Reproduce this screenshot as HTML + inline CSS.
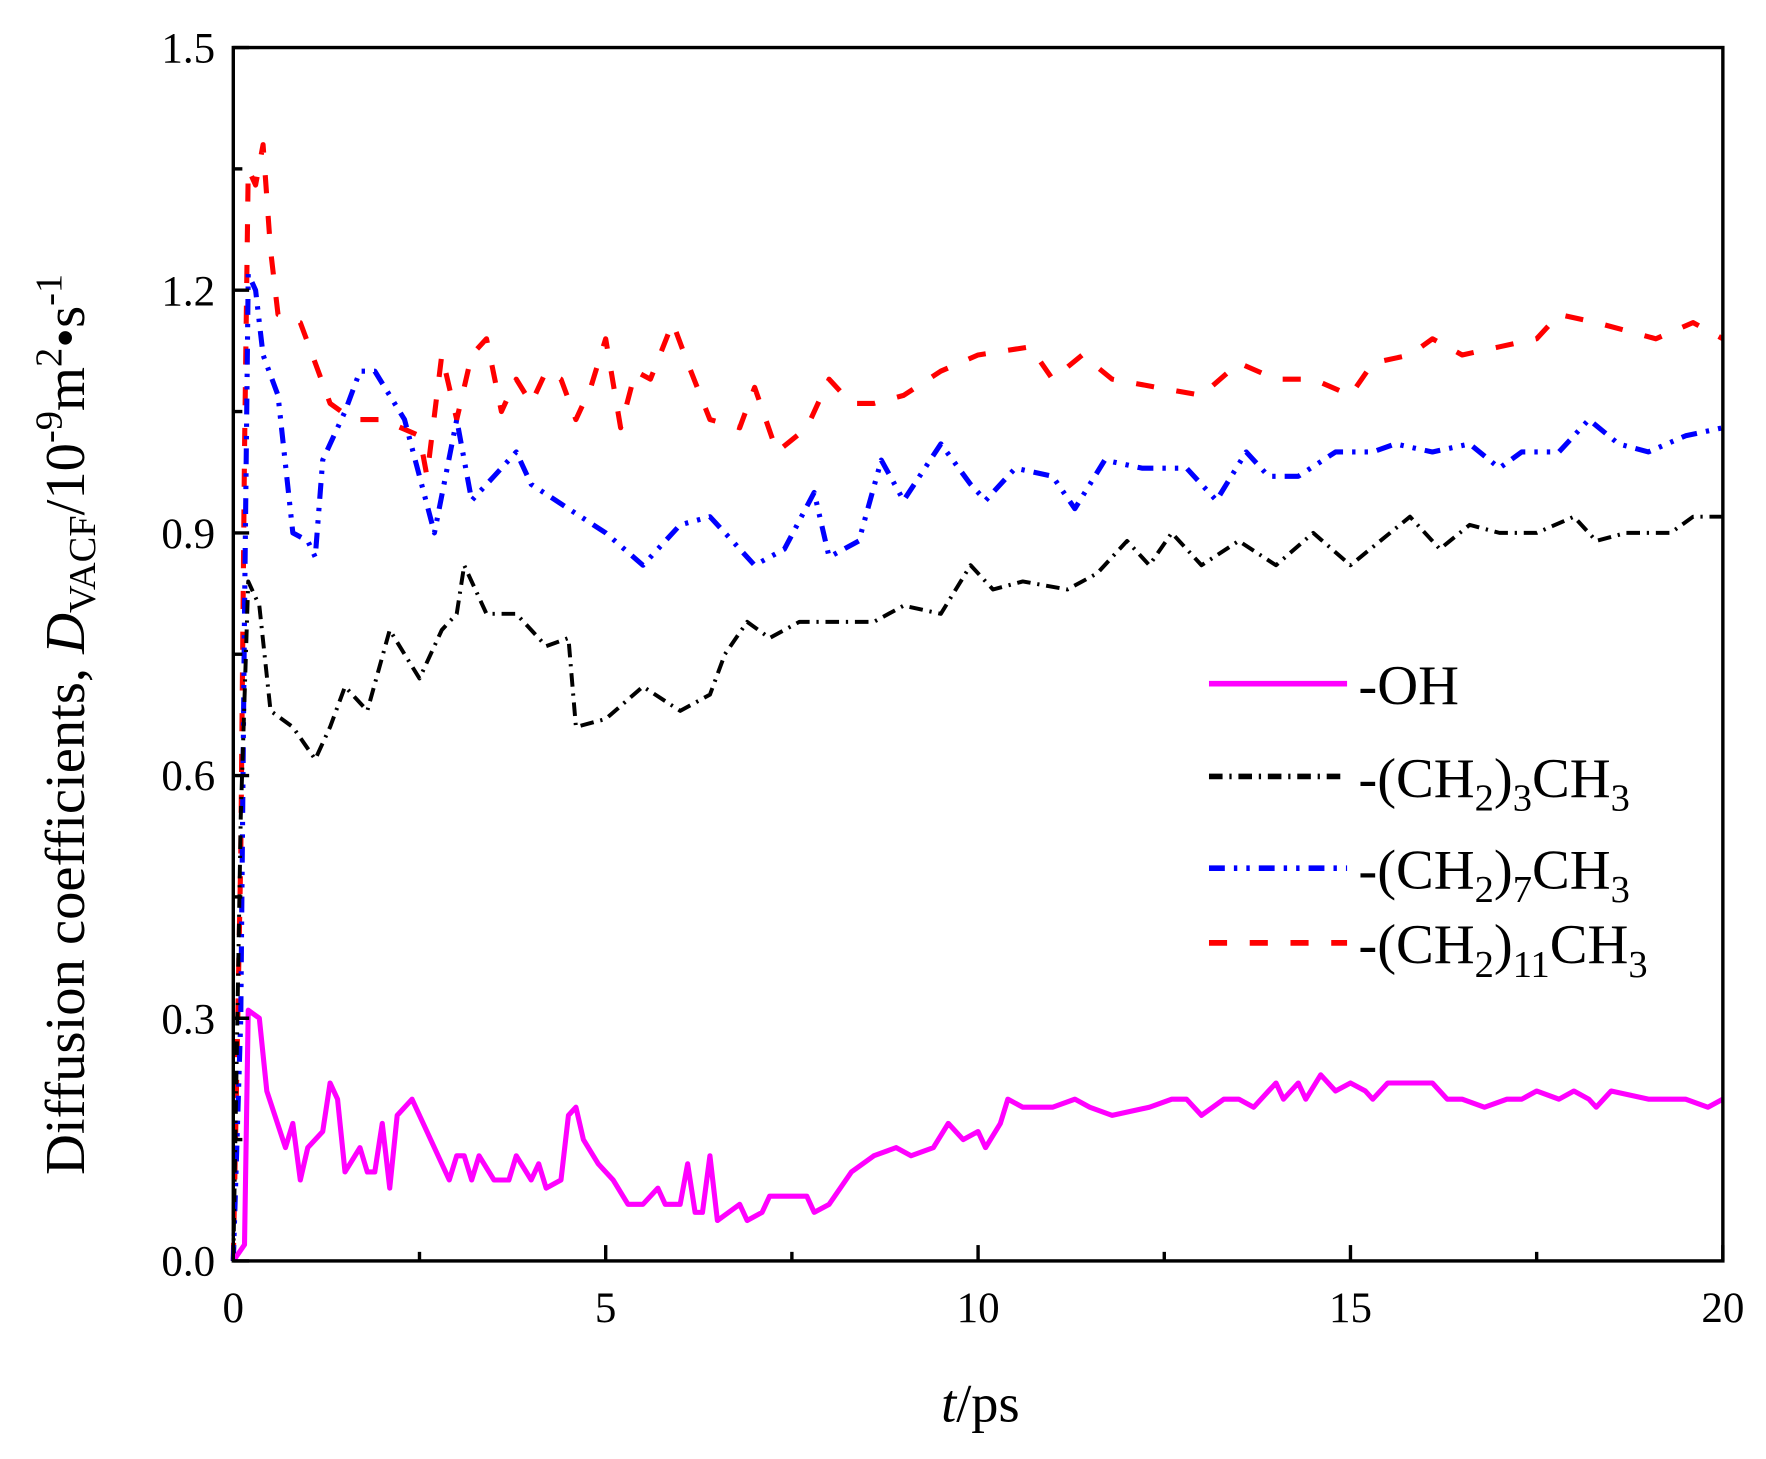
<!DOCTYPE html>
<html><head><meta charset="utf-8"><style>html,body{margin:0;padding:0;background:#fff}svg{display:block}</style></head>
<body>
<svg id="s" width="1766" height="1459" viewBox="0 0 1560 1289" xmlns="http://www.w3.org/2000/svg" font-family="Liberation Serif, serif">
<rect width="1560" height="1289" fill="#fff"/>
<g id="series"></g>
<rect x="206" y="42" width="1316" height="1072" fill="none" stroke="#000" stroke-width="3"/>
<g id="ticks" stroke="#000" stroke-width="3"></g>
<g font-size="38" fill="#000">
<text x="190" y="1127" text-anchor="end">0.0</text>
<text x="190" y="913" text-anchor="end">0.3</text>
<text x="190" y="698" text-anchor="end">0.6</text>
<text x="190" y="484" text-anchor="end">0.9</text>
<text x="190" y="270" text-anchor="end">1.2</text>
<text x="190" y="55" text-anchor="end">1.5</text>
<text x="206" y="1168" text-anchor="middle">0</text>
<text x="535" y="1168" text-anchor="middle">5</text>
<text x="864" y="1168" text-anchor="middle">10</text>
<text x="1193" y="1168" text-anchor="middle">15</text>
<text x="1522" y="1168" text-anchor="middle">20</text>
</g>
<text x="866" y="1256" font-size="48" text-anchor="middle"><tspan font-style="italic">t</tspan>/ps</text>
<text transform="translate(74,640) rotate(-90)" font-size="50" text-anchor="middle">Diffusion coefficients, <tspan font-style="italic">D</tspan><tspan font-size="34" dy="10">VACF</tspan><tspan dy="-10">/10</tspan><tspan font-size="34" dy="-20">-9</tspan><tspan dy="20">m</tspan><tspan font-size="34" dy="-20">2</tspan><tspan dy="20">•s</tspan><tspan font-size="34" dy="-20">-1</tspan></text>
<g stroke-width="5">
<line x1="1068" y1="604" x2="1190" y2="604" stroke="#ff00ff"/>
<line x1="1068" y1="686" x2="1190" y2="686" stroke="#000" stroke-dasharray="12,6,2,6"/>
<line x1="1068" y1="767" x2="1190" y2="767" stroke="#0000ff" stroke-dasharray="14,8,3,8,3,8"/>
<line x1="1068" y1="833" x2="1190" y2="833" stroke="#ff0000" stroke-dasharray="16,20"/>
</g>
<g font-size="50" fill="#000">
<text x="1200" y="622">-OH</text>
<text x="1200" y="704">-(CH<tspan font-size="34" dy="12">2</tspan><tspan dy="-12">)</tspan><tspan font-size="34" dy="12">3</tspan><tspan dy="-12">CH</tspan><tspan font-size="34" dy="12">3</tspan></text>
<text x="1200" y="785">-(CH<tspan font-size="34" dy="12">2</tspan><tspan dy="-12">)</tspan><tspan font-size="34" dy="12">7</tspan><tspan dy="-12">CH</tspan><tspan font-size="34" dy="12">3</tspan></text>
<text x="1200" y="851">-(CH<tspan font-size="34" dy="12">2</tspan><tspan dy="-12">)</tspan><tspan font-size="34" dy="12">11</tspan><tspan dy="-12">CH</tspan><tspan font-size="34" dy="12">3</tspan></text>
</g>
</svg>
<script>
var X=function(t){return 206+65.8*t},Y=function(v){return 1114-v*714.67};
var NS="http://www.w3.org/2000/svg";
function path(d,col,dash,w){var p=document.createElementNS(NS,"path");
var s=d.map(function(q,i){return (i?"L":"M")+X(q[0]).toFixed(1)+","+Y(q[1]).toFixed(1)}).join("");
p.setAttribute("d",s);p.setAttribute("fill","none");p.setAttribute("stroke",col);p.setAttribute("stroke-width",w);
p.setAttribute("stroke-linejoin","round");if(dash)p.setAttribute("stroke-dasharray",dash);
document.getElementById("series").appendChild(p);}
var red=[[0,0],[0.1,0.5],[0.15,1.0],[0.2,1.35],[0.3,1.33],[0.4,1.38],[0.5,1.25],[0.6,1.17],[0.9,1.16],[1.1,1.11],[1.3,1.06],[1.6,1.04],[2.0,1.04],[2.5,1.02],[2.6,0.97],[2.8,1.12],[3.0,1.04],[3.2,1.12],[3.4,1.14],[3.6,1.05],[3.8,1.09],[4.0,1.06],[4.2,1.10],[4.4,1.09],[4.6,1.04],[4.8,1.08],[5.0,1.14],[5.2,1.03],[5.4,1.10],[5.6,1.09],[5.9,1.16],[6.1,1.11],[6.4,1.04],[6.8,1.03],[7.0,1.08],[7.3,1.00],[7.7,1.03],[8.0,1.09],[8.3,1.06],[8.6,1.06],[9.0,1.07],[9.5,1.10],[10,1.12],[10.7,1.13],[11,1.09],[11.4,1.12],[11.8,1.09],[12.4,1.08],[13,1.07],[13.5,1.11],[14,1.09],[14.5,1.09],[15,1.07],[15.3,1.11],[15.8,1.12],[16.1,1.14],[16.5,1.12],[17,1.13],[17.5,1.14],[17.8,1.17],[18.3,1.16],[18.7,1.15],[19.1,1.14],[19.6,1.16],[20,1.14]];
var blue=[[0,0],[0.1,0.3],[0.15,0.8],[0.2,1.22],[0.3,1.20],[0.4,1.12],[0.6,1.07],[0.8,0.9],[1,0.89],[1.1,0.87],[1.2,0.99],[1.5,1.05],[1.7,1.10],[1.9,1.10],[2.3,1.04],[2.5,0.97],[2.7,0.90],[3.0,1.04],[3.2,0.94],[3.5,0.97],[3.8,1.00],[4,0.96],[4.5,0.93],[5,0.90],[5.5,0.86],[6,0.91],[6.4,0.92],[6.7,0.89],[7,0.86],[7.4,0.88],[7.8,0.95],[8,0.87],[8.4,0.89],[8.7,0.99],[9,0.94],[9.5,1.01],[9.9,0.96],[10.1,0.94],[10.5,0.98],[11,0.97],[11.3,0.93],[11.7,0.99],[12.2,0.98],[12.8,0.98],[13.2,0.94],[13.6,1.00],[13.9,0.97],[14.3,0.97],[14.8,1.00],[15.3,1.00],[15.6,1.01],[16.1,1.00],[16.6,1.01],[17.0,0.98],[17.3,1.00],[17.8,1.00],[18.2,1.04],[18.6,1.01],[19.0,1.00],[19.5,1.02],[20,1.03]];
var blk=[[0,0],[0.1,0.55],[0.2,0.84],[0.35,0.81],[0.5,0.68],[0.8,0.66],[1.1,0.62],[1.3,0.66],[1.5,0.71],[1.8,0.68],[2.1,0.78],[2.3,0.75],[2.5,0.72],[2.8,0.78],[3.0,0.80],[3.1,0.86],[3.4,0.80],[3.8,0.80],[4.2,0.76],[4.5,0.77],[4.6,0.66],[5,0.67],[5.5,0.71],[6,0.68],[6.4,0.70],[6.6,0.75],[6.9,0.79],[7.2,0.77],[7.6,0.79],[8,0.79],[8.6,0.79],[9,0.81],[9.5,0.80],[9.9,0.86],[10.2,0.83],[10.6,0.84],[11.2,0.83],[11.6,0.85],[12,0.89],[12.3,0.86],[12.6,0.90],[13,0.86],[13.5,0.89],[14,0.86],[14.5,0.90],[15,0.86],[15.4,0.89],[15.8,0.92],[16.2,0.88],[16.6,0.91],[17,0.90],[17.5,0.90],[18,0.92],[18.3,0.89],[18.7,0.90],[19.3,0.90],[19.6,0.92],[20,0.92]];
var mag=[[0,0],[0.15,0.02],[0.2,0.31],[0.35,0.30],[0.45,0.21],[0.7,0.14],[0.8,0.17],[0.9,0.10],[1,0.14],[1.2,0.16],[1.3,0.22],[1.4,0.20],[1.5,0.11],[1.7,0.14],[1.8,0.11],[1.9,0.11],[2.0,0.17],[2.1,0.09],[2.2,0.18],[2.4,0.20],[2.6,0.16],[2.9,0.10],[3.0,0.13],[3.1,0.13],[3.2,0.10],[3.3,0.13],[3.5,0.10],[3.7,0.10],[3.8,0.13],[4,0.10],[4.1,0.12],[4.2,0.09],[4.4,0.10],[4.5,0.18],[4.6,0.19],[4.7,0.15],[4.9,0.12],[5.1,0.10],[5.3,0.07],[5.5,0.07],[5.7,0.09],[5.8,0.07],[6,0.07],[6.1,0.12],[6.2,0.06],[6.3,0.06],[6.4,0.13],[6.5,0.05],[6.8,0.07],[6.9,0.05],[7.1,0.06],[7.2,0.08],[7.7,0.08],[7.8,0.06],[8,0.07],[8.3,0.11],[8.6,0.13],[8.9,0.14],[9.1,0.13],[9.4,0.14],[9.6,0.17],[9.8,0.15],[10,0.16],[10.1,0.14],[10.3,0.17],[10.4,0.20],[10.6,0.19],[11,0.19],[11.3,0.20],[11.5,0.19],[11.8,0.18],[12.3,0.19],[12.6,0.20],[12.8,0.20],[13.0,0.18],[13.3,0.20],[13.5,0.20],[13.7,0.19],[13.9,0.21],[14,0.22],[14.1,0.20],[14.3,0.22],[14.4,0.20],[14.6,0.23],[14.8,0.21],[15,0.22],[15.2,0.21],[15.3,0.20],[15.5,0.22],[16.1,0.22],[16.3,0.20],[16.5,0.20],[16.8,0.19],[17.1,0.20],[17.3,0.20],[17.5,0.21],[17.8,0.20],[18.0,0.21],[18.2,0.20],[18.3,0.19],[18.5,0.21],[19,0.20],[19.5,0.20],[19.8,0.19],[20,0.20]];
path(red,"#ff0000","16,20",4.5);
path(blue,"#0000ff","14,8,3,8,3,8",4.5);
path(blk,"#000","12,6,2,6",3.5);
path(mag,"#ff00ff",null,4.5);
var g=document.getElementById("ticks"),h="";
for(var i=0;i<=8;i++){var x=206+i*164.5,L=i%2?8:14;h+='<line x1="'+x+'" y1="1114" x2="'+x+'" y2="'+(1114-L)+'"/>';}
for(var j=0;j<=10;j++){var y=1114-j*107.2,L=j%2?8:14;h+='<line x1="206" y1="'+y+'" x2="'+(206+L)+'" y2="'+y+'"/>';}
g.innerHTML=h;
</script>
</body></html>
